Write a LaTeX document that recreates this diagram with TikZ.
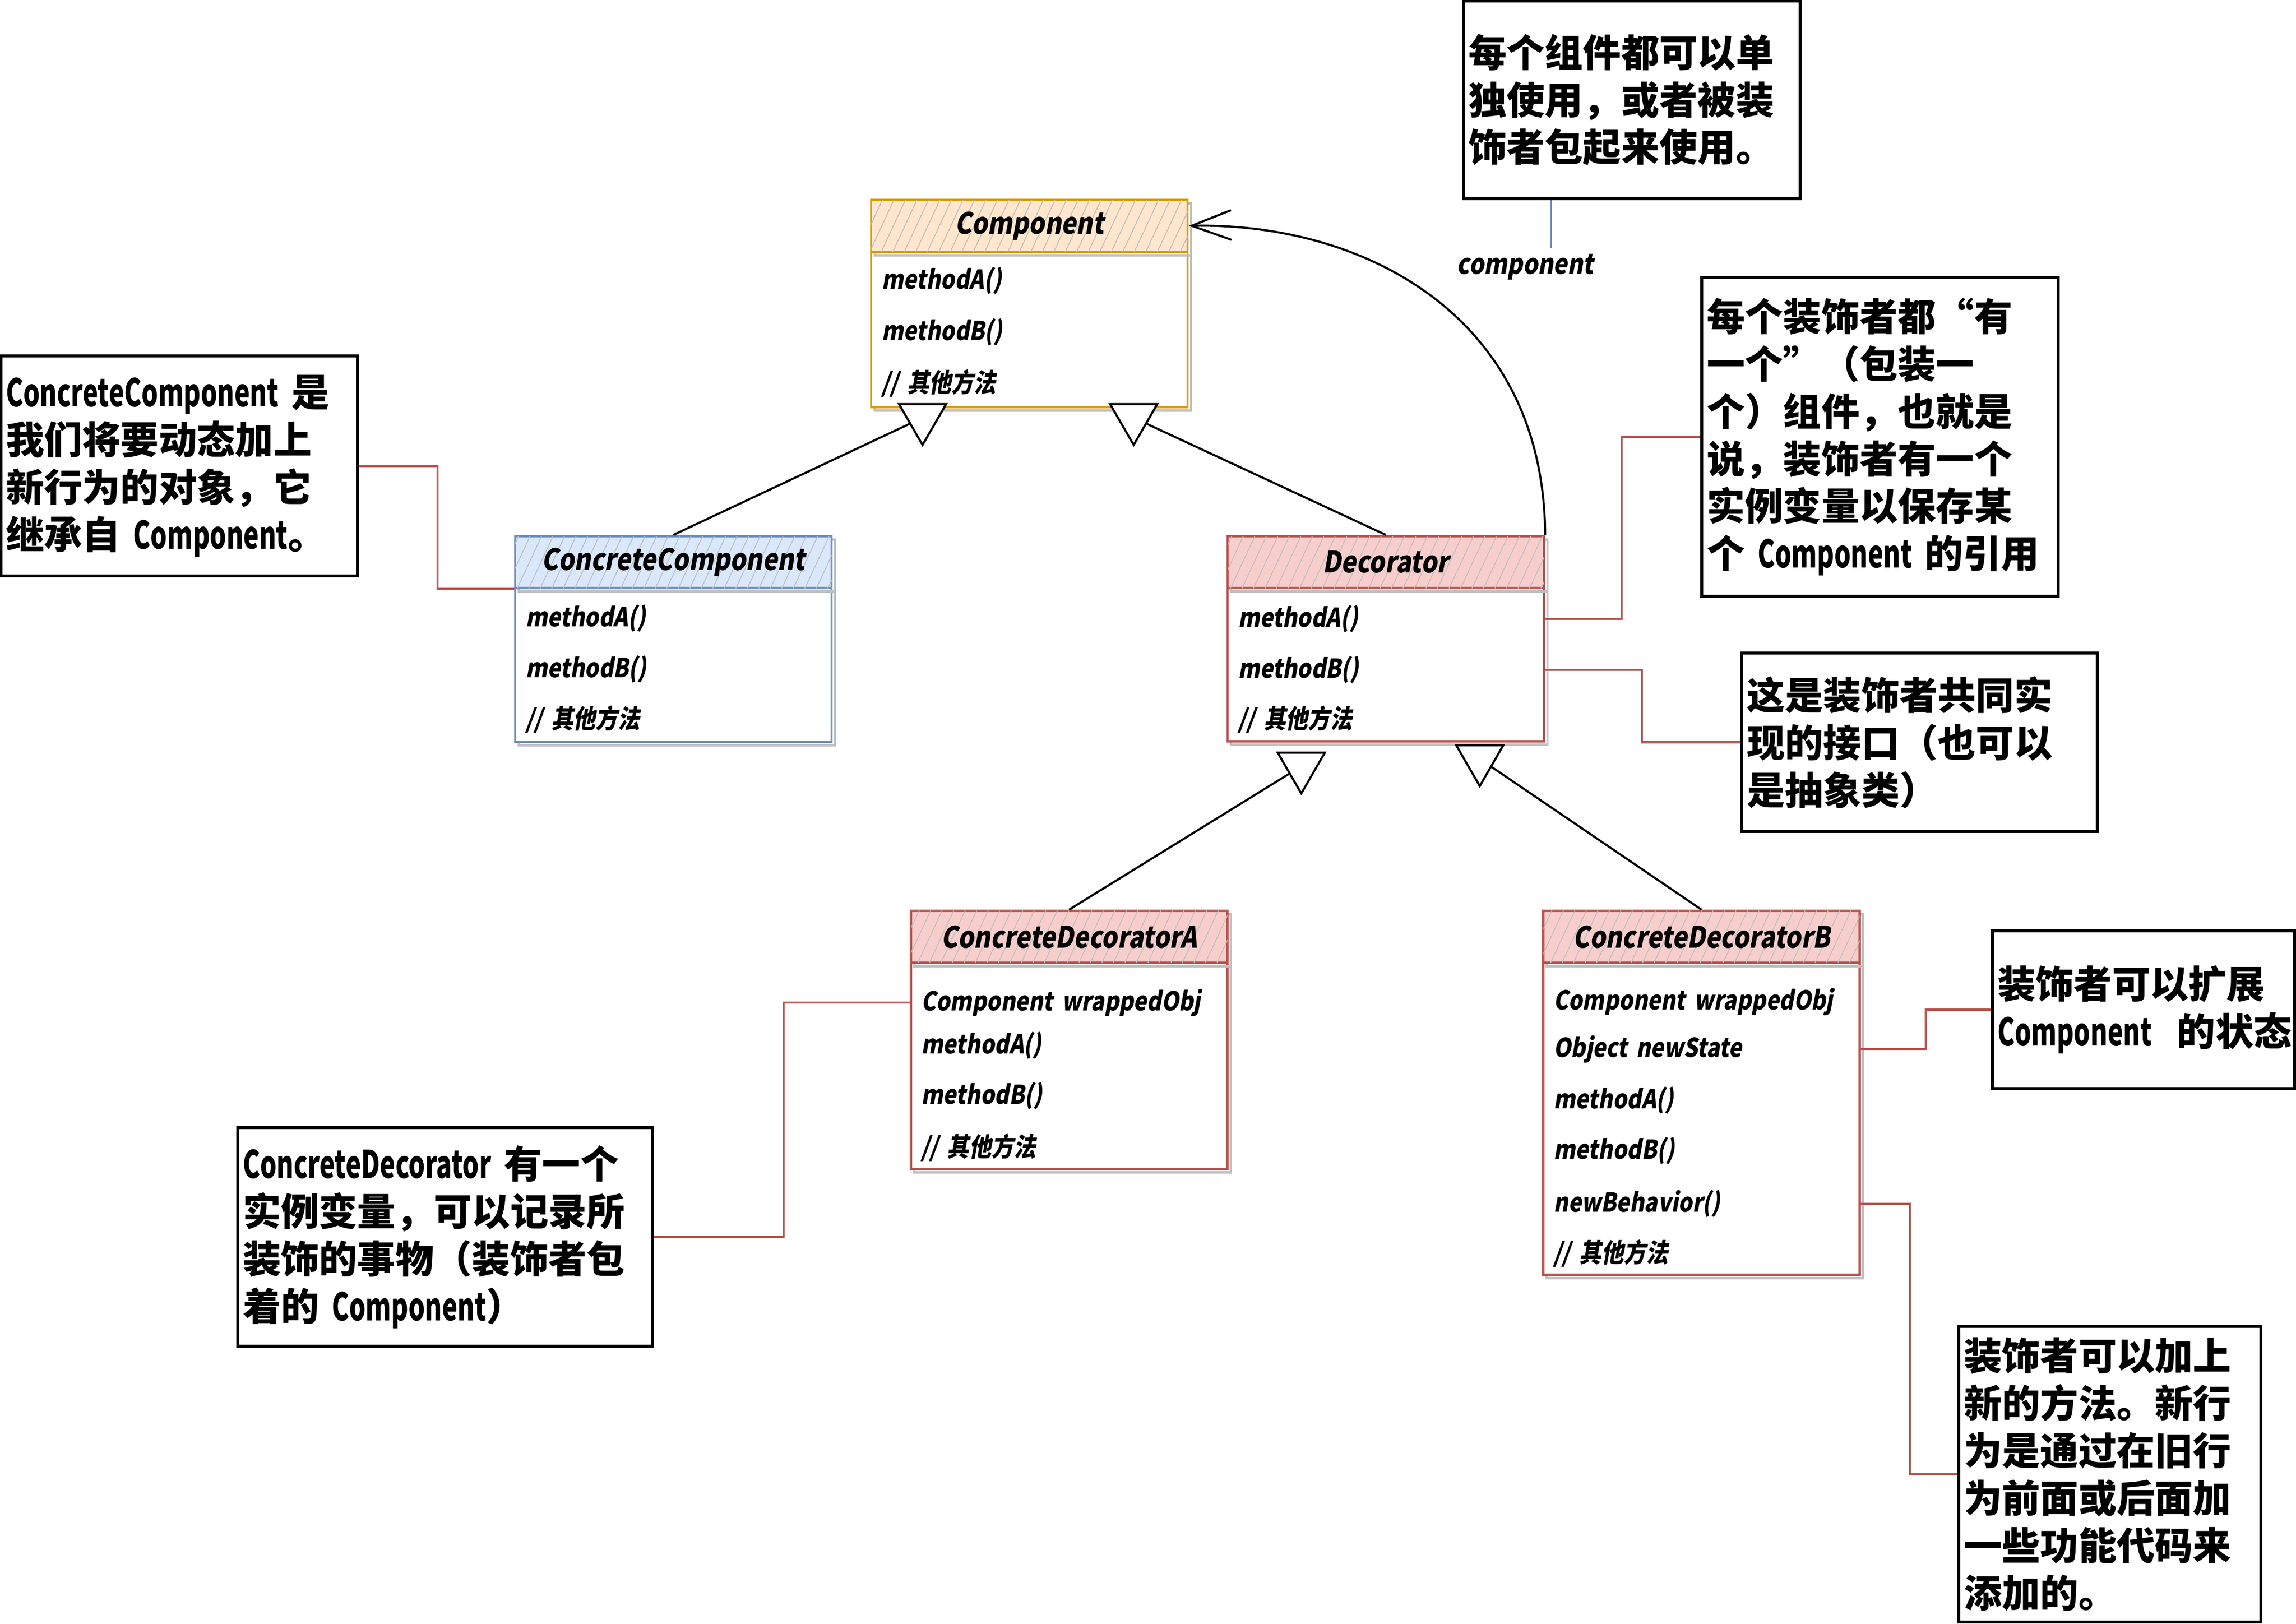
\documentclass[tikz,border=0pt]{standalone}
\usepackage{fontspec}
\setmainfont{Noto Sans CJK SC}
\newfontfamily\clsfont{Noto Sans CJK SC}[FakeSlant=0.18, FakeStretch=0.85]
\newfontfamily\narrowfont{Noto Sans CJK SC}[FakeStretch=0.68]
\hyphenpenalty=10000
\exhyphenpenalty=10000
\usetikzlibrary{arrows.meta, shapes.geometric, patterns.meta}
\definecolor{compline}{HTML}{D79B00}
\definecolor{compfill}{HTML}{FFE6CC}
\definecolor{ccline}{HTML}{6C8EBF}
\definecolor{ccfill}{HTML}{DAE8FC}
\definecolor{decline}{HTML}{B85450}
\definecolor{decfill}{HTML}{F8CECC}
\tikzset{classbox/.style = {anchor=north, minimum width=6.4cm, fill=white, line width=1.3pt, preaction={draw=black!25, line width=1.3pt, transform canvas={shift={(0.07,-0.07)}}}}}
\tikzset{classhead/.style = {classbox, minimum height=1.05cm, postaction={pattern={Lines[angle=65,distance=6pt,line width=0.5pt]}, pattern color=gray!50}, font=\clsfont\bfseries\fontsize{17pt}{20pt}\selectfont}}
\tikzset{member/.style = {text width=5.98cm, inner xsep=0.21cm, inner ysep=0pt, align=left, font=\clsfont\bfseries\fontsize{15pt}{18pt}\selectfont}}
\tikzset{note/.style = {draw, fill=white, line width=1.6pt, inner xsep=0.1cm, align=left, font=\bfseries\fontsize{22pt}{27.3pt}\selectfont}}
\tikzset{tri/.style = {regular polygon, regular polygon sides=3, shape border rotate=180, draw, fill=white, line width=1.2pt, minimum size=1.1cm, inner sep=0pt}}
\tikzset{inherit/.style = {line width=1.2pt}}
\tikzset{assoc/.style = {line width=1.2pt, -{Straight Barb[length=0.8cm, width=0.6cm]}}}
\tikzset{link/.style = {draw=decline, line width=1.2pt}}

\begin{document}
\begin{tikzpicture}
		\useasboundingbox (0,0) rectangle (46.44,-32.84);

		% classes
		\node[classbox, draw=compline, minimum height=4.19cm] (comp) at (20.82,-4.02) {};
		\node[classhead, draw=compline, fill=compfill] (comphd) at (20.82,-4.02) {Component};
		\node[member] (compA) at (20.82,-5.68) {methodA()};
		\node[member] (compB) at (20.82,-6.72) {methodB()};
		\node[member] (compC) at (20.82,-7.75) {// 其他方法};

		\node[classbox, draw=ccline, minimum height=4.16cm] (cc) at (13.62,-10.82) {};
		\node[classhead, draw=ccline, fill=ccfill] (cchd) at (13.62,-10.82) {ConcreteComponent};
		\node[member] (ccA) at (13.62,-12.51) {methodA()};
		\node[member] (ccB) at (13.62,-13.54) {methodB()};
		\node[member] (ccC) at (13.62,-14.55) {// 其他方法};

		\node[classbox, draw=decline, minimum height=4.15cm] (dec) at (28.03,-10.82) {};
		\node[classhead, draw=decline, fill=decfill] (dechd) at (28.03,-10.82) {Decorator};
		\node[member] (decA) at (28.03,-12.52) {methodA()};
		\node[member] (decB) at (28.03,-13.55) {methodB()};
		\node[member] (decC) at (28.03,-14.55) {// 其他方法};

		\node[classbox, draw=decline, minimum height=5.22cm] (cda) at (21.625,-18.40) {};
		\node[classhead, draw=decline, fill=decfill] (cdahd) at (21.625,-18.40) {ConcreteDecoratorA};
		\node[member] (cdaW) at (21.625,-20.28) {Component wrappedObj};
		\node[member] (cdaA) at (21.625,-21.15) {methodA()};
		\node[member] (cdaB) at (21.625,-22.17) {methodB()};
		\node[member] (cdaC) at (21.625,-23.21) {// 其他方法};

		\node[classbox, draw=decline, minimum height=7.36cm] (cdb) at (34.415,-18.40) {};
		\node[classhead, draw=decline, fill=decfill] (cdbhd) at (34.415,-18.40) {ConcreteDecoratorB};
		\node[member] (cdbW) at (34.415,-20.26) {Component wrappedObj};
		\node[member] (cdbS) at (34.415,-21.22) {Object newState};
		\node[member] (cdbA) at (34.415,-22.26) {methodA()};
		\node[member] (cdbB) at (34.415,-23.28) {methodB()};
		\node[member] (cdbN) at (34.415,-24.35) {newBehavior()};
		\node[member] (cdbC) at (34.415,-25.35) {// 其他方法};

		% notes
		\node[note, text width=6.61cm, minimum height=4.0cm] (n1) at (33.005,-2.02) {每个组件都可以单\\独使用，或者被装\\饰者包起来使用。};
		\node[note, text width=7.01cm, minimum height=4.45cm] (n0) at (3.625,-9.425) {{\narrowfont ConcreteComponent} 是\\我们将要动态加上\\新行为的对象，它\\继承自 {\narrowfont Component}。};
		\node[note, text width=7.01cm, minimum height=6.45cm] (n2) at (38.025,-8.835) {每个装饰者都“有\\一个”（包装一\\个）组件，也就是\\说，装饰者有一个\\实例变量以保存某\\个 {\narrowfont Component} 的引用};
		\node[note, text width=6.99cm, minimum height=3.61cm] (n3) at (38.825,-15.015) {这是装饰者共同实\\现的接口（也可以\\是抽象类）};
		\node[note, text width=8.19cm, minimum height=4.42cm] (n4) at (9.005,-25.02) {{\narrowfont ConcreteDecorator} 有一个\\实例变量，可以记录所\\装饰的事物（装饰者包\\着的 {\narrowfont Component}）};
		\node[note, text width=5.91cm, minimum height=3.19cm] (n5) at (43.355,-20.425) {装饰者可以扩展\\{\narrowfont Component}~~的状态};
		\node[note, text width=5.91cm, minimum height=5.98cm] (n6) at (42.675,-29.82) {装饰者可以加上\\新的方法。新行\\为是通过在旧行\\为前面或后面加\\一些功能代码来\\添加的。};

		\node[font=\clsfont\bfseries\fontsize{16pt}{19pt}\selectfont] (lbl) at (30.85,-5.40) {component};
		\coordinate (lbltop) at ([xshift=0.52cm]lbl.north);

		% triangles
		\node[tri] (t1) at (18.66,-8.45) {};
		\node[tri] (t2) at (22.93,-8.45) {};
		\node[tri] (t3) at (26.32,-15.50) {};
		\node[tri] (t4) at (29.93,-15.35) {};

		%edges
		\draw[inherit] (cc.north) -- (t1);
		\draw[inherit] (dec.north) -- (t2);
		\draw[inherit] (cda.north) -- (t3);
		\draw[inherit] (cdb.north) -- (t4);
		\draw[assoc] (dec.north east) .. controls (31.23,-6.40) and (27.60,-4.50) .. (comphd.east);
		\draw[draw=ccline, line width=1pt] (lbltop) -- (lbltop |- n1.south);

		\draw[link] (n0.east) -- ++(1.59,0) |- (cchd.south west);
		\draw[link] (n2.west) -- ++(-1.59,0) |- (decA.east);
		\draw[link] (decB.east) -- ++(1.97,0) |- (n3.west);
		\draw[link] (n4.east) -- ++(2.62,0) |- (cdaW.west);
		\draw[link] (cdbS.east) -- ++(1.33,0) |- (n5.west);
		\draw[link] (cdbN.east) -- ++(1.01,0) |- (n6.west);
	\end{tikzpicture}
\end{document}
